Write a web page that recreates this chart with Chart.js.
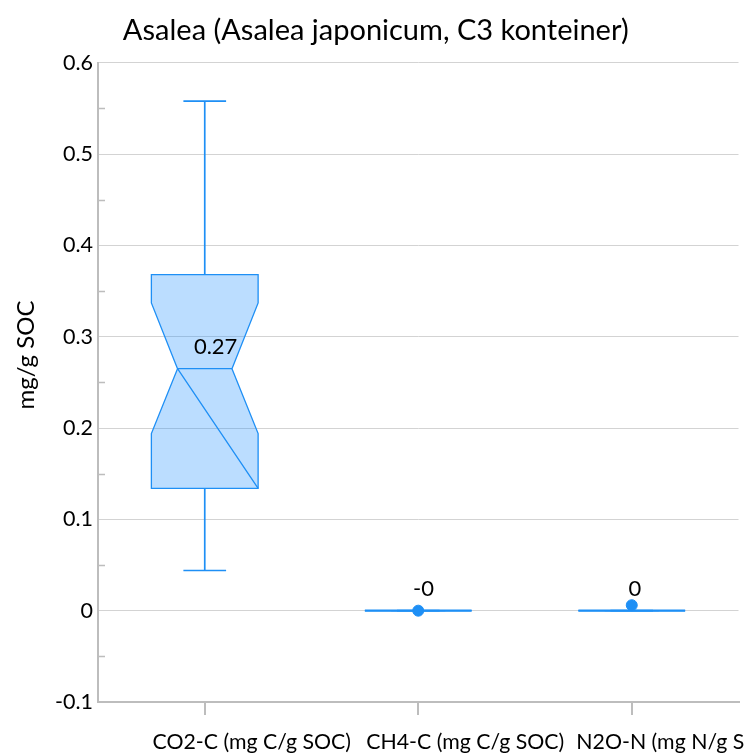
<!DOCTYPE html>
<html>
<head>
<meta charset="utf-8">
<script src="https://cdn.jsdelivr.net/npm/chart.js@4.4.0/dist/chart.umd.min.js"></script>
<style>
  html, body { margin: 0; padding: 0; background: #fff; overflow: hidden; }
  #wrap { width: 745px; height: 753px; }
</style>
</head>
<body>
<div id="wrap"><canvas id="c" width="745" height="753"></canvas></div>
<script>
// ---- data ----
const categories = ['CO2-C (mg C/g SOC)', 'CH4-C (mg C/g SOC)', 'N2O-N (mg N/g SOC)'];
const whiskerLow  = [0.044, 0, 0];
const q1          = [0.134, 0, 0];
const notchLow    = [0.194, 0, 0];
const median      = [0.265, 0, 0];
const notchHigh   = [0.337, 0, 0];
const q3          = [0.368, 0, 0];
const whiskerHigh = [0.558, 0, 0];
const meanPoints  = [null, 0, 0.006];
const valueLabels = ['0.27', '-0', '0'];
const yTicks      = [-0.1, 0, 0.1, 0.2, 0.3, 0.4, 0.5, 0.6];
const yMinorTicks = [-0.05, 0.05, 0.15, 0.25, 0.35, 0.45, 0.55];

const FONT = 'Lato, "Open Sans", sans-serif';
const BLUE = '#1e8ff5';
const FILL = 'rgba(30,143,255,0.30)';
const AXIS = '#bdbdbd';
const GRID = '#d3d3d3';

const boxPlugin = {
  id: 'boxes',
  beforeDatasetsDraw(chart) {
    const ctx = chart.ctx, xs = chart.scales.x, ys = chart.scales.y;
    const step = xs.getPixelForValue(1) - xs.getPixelForValue(0);
    const hw = step * 0.25;         // half box width
    const inset = hw * 0.49;        // notch inset
    const cap = step * 0.1;         // whisker cap half width
    ctx.save();
    ctx.lineJoin = 'miter';
    categories.forEach((c, i) => {
      const cx = xs.getPixelForValue(i);
      const L = cx - hw, R = cx + hw;
      const yQ1 = ys.getPixelForValue(q1[i]), yQ3 = ys.getPixelForValue(q3[i]);
      const yNL = ys.getPixelForValue(notchLow[i]), yNH = ys.getPixelForValue(notchHigh[i]);
      const yM = ys.getPixelForValue(median[i]);
      const yWL = ys.getPixelForValue(whiskerLow[i]), yWH = ys.getPixelForValue(whiskerHigh[i]);
      ctx.strokeStyle = BLUE;
      ctx.lineWidth = 1.7;
      // whiskers
      ctx.beginPath();
      ctx.moveTo(cx, yQ3); ctx.lineTo(cx, yWH);
      ctx.moveTo(cx - cap, yWH); ctx.lineTo(cx + cap, yWH);
      ctx.moveTo(cx, yQ1); ctx.lineTo(cx, yWL);
      ctx.moveTo(cx - cap, yWL); ctx.lineTo(cx + cap, yWL);
      ctx.stroke();
      // notched box
      ctx.beginPath();
      ctx.moveTo(L, yQ3); ctx.lineTo(R, yQ3); ctx.lineTo(R, yNH);
      ctx.lineTo(R - inset, yM); ctx.lineTo(R, yNL); ctx.lineTo(R, yQ1);
      ctx.lineTo(L, yQ1); ctx.lineTo(L, yNL); ctx.lineTo(L + inset, yM);
      ctx.lineTo(L, yNH); ctx.closePath();
      ctx.fillStyle = FILL;
      ctx.fill();
      ctx.lineWidth = 1.3;
      ctx.stroke();
      // median + diagonal
      ctx.beginPath();
      ctx.moveTo(L + inset, yM); ctx.lineTo(R - inset, yM);
      if (q3[i] !== q1[i]) { ctx.moveTo(L + inset, yM); ctx.lineTo(R, yQ1); }
      ctx.stroke();
      if (q3[i] === q1[i]) {
        ctx.lineWidth = 2.2;
        ctx.beginPath(); ctx.moveTo(L, yM); ctx.lineTo(R, yM); ctx.stroke();
      }
    });
    ctx.restore();
  },
  afterDatasetsDraw(chart) {
    const ctx = chart.ctx, xs = chart.scales.x, ys = chart.scales.y;
    ctx.save();
    ctx.font = '22px ' + FONT;
    ctx.fillStyle = '#000';
    ctx.textBaseline = 'middle';
    ctx.textAlign = 'left';
    valueLabels.forEach((t, i) => {
      const w = ctx.measureText(t).width;
      const cx = xs.getPixelForValue(i);
      ctx.fillText(t, cx - w / 4, ys.getPixelForValue(median[i]) - 22);
    });
    ctx.restore();
  },
  afterDraw(chart) {
    const ctx = chart.ctx, ys = chart.scales.y, area = chart.chartArea;
    ctx.save();
    // minor ticks
    ctx.strokeStyle = AXIS;
    ctx.lineWidth = 1.5;
    ctx.beginPath();
    yMinorTicks.forEach(v => {
      const y = Math.round(ys.getPixelForValue(v)) + 0.5;
      ctx.moveTo(area.left, y); ctx.lineTo(area.left + 7, y);
    });
    ctx.stroke();
    // y-axis title
    ctx.fillStyle = '#000';
    ctx.font = '24px ' + FONT;
    ctx.textAlign = 'center';
    ctx.textBaseline = 'middle';
    ctx.translate(26, 355);
    ctx.rotate(-Math.PI / 2);
    ctx.fillText('mg/g SOC', 0, 0);
    ctx.restore();
  }
};

new Chart(document.getElementById('c'), {
  type: 'line',
  data: {
    labels: categories,
    datasets: [{
      label: 'mean',
      data: meanPoints,
      showLine: false,
      pointRadius: 5.5,
      pointHoverRadius: 5.5,
      pointBackgroundColor: BLUE,
      pointBorderColor: BLUE,
      borderColor: BLUE,
      backgroundColor: BLUE
    }]
  },
  options: {
    responsive: false,
    devicePixelRatio: 1,
    animation: false,
    events: [],
    layout: { padding: { left: 0, right: -6.5, top: 0, bottom: 0 } },
    plugins: {
      legend: { display: false },
      tooltip: { enabled: false },
      title: {
        display: true,
        text: 'Asalea (Asalea japonicum, C3 konteiner)',
        color: '#000',
        font: { family: FONT, size: 29, weight: 'normal' },
        padding: { top: 13, bottom: 15 }
      }
    },
    scales: {
      x: {
        type: 'category',
        offset: true,
        grid: { drawOnChartArea: false, drawTicks: true, tickLength: 13, color: AXIS, lineWidth: 2, offset: false },
        border: { color: AXIS, width: 2 },
        ticks: { color: '#000', font: { family: FONT, size: 21.3 }, padding: 14, labelOffset: 47, maxRotation: 0, autoSkip: false },
        afterFit(s) { s.paddingLeft = 0; s.paddingRight = 0; s.height = 51; }
      },
      y: {
        min: -0.1,
        max: 0.6,
        afterBuildTicks(s) { s.ticks = yTicks.map(v => ({ value: v })); },
        grid: { drawTicks: false, color: GRID, lineWidth: 1 },
        border: { color: AXIS, width: 2 },
        ticks: {
          color: '#000',
          font: { family: FONT, size: 21.5 },
          padding: 5,
          callback: v => String(+Number(v).toFixed(2))
        },
        afterFit(s) { s.width = 98; }
      }
    }
  },
  plugins: [boxPlugin]
});
</script>
</body>
</html>
